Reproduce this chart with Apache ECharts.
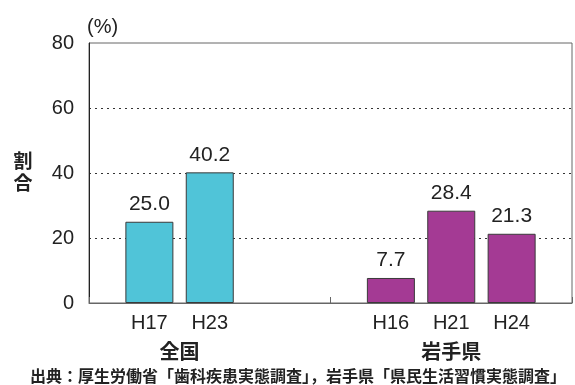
<!DOCTYPE html>
<html>
<head>
<meta charset="utf-8">
<script src="https://cdn.jsdelivr.net/npm/echarts@6/dist/echarts.min.js"></script>
<style>
  html, body { margin: 0; padding: 0; background: #fff; }
  #chart { width: 575px; height: 385px; }
</style>
</head>
<body>
<div id="chart"></div>
<script>
// Survey years and percentages, nationwide (全国) and Iwate prefecture (岩手県)
const nationalYears = ['H17', 'H23'];
const nationalValues = [25.0, 40.2];
const iwateYears = ['H16', 'H21', 'H24'];
const iwateValues = [7.7, 28.4, 21.3];
const groupNames = ['全国', '岩手県'];
const yTicks = [0, 20, 40, 60, 80];
const sourceText = '出典：厚生労働省「歯科疾患実態調査」，岩手県「県民生活習慣実態調査」';

const LATIN = '"Liberation Sans", Arial, sans-serif';
const CJK = '"Noto Sans CJK JP", sans-serif';

// Category slots: blank edge slots and a two-slot gap between the groups
const categories = [''].concat(nationalYears, ['', ''], iwateYears, ['']);
const nationalData = categories.map(c => {
  const i = nationalYears.indexOf(c);
  return i >= 0 ? nationalValues[i] : null;
});
const iwateData = categories.map(c => {
  const i = iwateYears.indexOf(c);
  return i >= 0 ? iwateValues[i] : null;
});

const chart = echarts.init(document.getElementById('chart'), null, { renderer: 'canvas' });

const valueLabel = {
  show: true,
  position: 'top',
  distance: 7,
  fontFamily: LATIN,
  fontSize: 21,
  color: '#222',
  formatter: p => p.value == null ? '' : Number(p.value).toFixed(1)
};

chart.setOption({
  animation: false,
  grid: {
    left: 89, right: 2, top: 43, bottom: 82,
    show: true, borderColor: '#666', borderWidth: 1, backgroundColor: 'transparent'
  },
  xAxis: [{
    type: 'category',
    data: categories,
    boundaryGap: false,
    axisLine: { lineStyle: { color: '#666', width: 1 } },
    axisTick: { show: false },
    axisLabel: { interval: 0, margin: 10, fontFamily: LATIN, fontSize: 20, color: '#222' },
    splitLine: { show: false }
  }, {
    type: 'category',
    data: groupNames,
    position: 'bottom',
    boundaryGap: true,
    axisLine: { show: false },
    axisTick: { show: true, inside: true, length: 6, lineStyle: { color: '#666' } },
    axisLabel: { show: false },
    splitLine: { show: false }
  }],
  yAxis: {
    type: 'value',
    min: yTicks[0],
    max: yTicks[yTicks.length - 1],
    interval: 20,
    axisLine: { show: true, lineStyle: { color: '#222', width: 1 } },
    axisTick: { show: false },
    axisLabel: { margin: 15, fontFamily: LATIN, fontSize: 20, color: '#222' },
    splitLine: {
      show: true, showMinLine: false, showMaxLine: false,
      lineStyle: { type: [2, 4], color: '#333', width: 1 }
    }
  },
  series: [{
    name: groupNames[0],
    type: 'bar',
    data: nationalData,
    barWidth: 48,
    barGap: '-100%',
    itemStyle: { color: '#50c4d8', borderColor: '#3a3a3a', borderWidth: 1 },
    label: valueLabel
  }, {
    name: groupNames[1],
    type: 'bar',
    data: iwateData,
    barWidth: 48,
    barGap: '-100%',
    itemStyle: { color: '#a43a94', borderColor: '#3a3a3a', borderWidth: 1 },
    label: valueLabel
  }]
});

// Group captions under the year labels, placed from the category axis positions
const px = c => chart.convertToPixel({ xAxisIndex: 0 }, c);
const nationalCenter = (px(nationalYears[0]) + px(nationalYears[nationalYears.length - 1])) / 2;
const iwateCenter = (px(iwateYears[0]) + px(iwateYears[iwateYears.length - 1])) / 2;
const groupY = 351;

function caption(text, x, y, size, weight, family, align, lineHeight) {
  const style = {
    text: text, fontSize: size, fontWeight: weight, fontFamily: family,
    fill: '#222', align: align, verticalAlign: 'middle'
  };
  if (lineHeight) style.lineHeight = lineHeight;
  return { type: 'text', x: x, y: y, style: style };
}

chart.setOption({
  graphic: [
    caption(groupNames[0], nationalCenter, groupY, 20, 'bold', CJK, 'center'),
    caption(groupNames[1], iwateCenter, groupY, 20, 'bold', CJK, 'center'),
    caption('(%)', 87, 27, 20, 'normal', LATIN, 'left'),
    caption('割\n合', 23, 172, 19, 'bold', CJK, 'center', 22),
    caption(sourceText, 298, 376, 16, 'bold', CJK, 'center')
  ]
});
</script>
</body>
</html>
